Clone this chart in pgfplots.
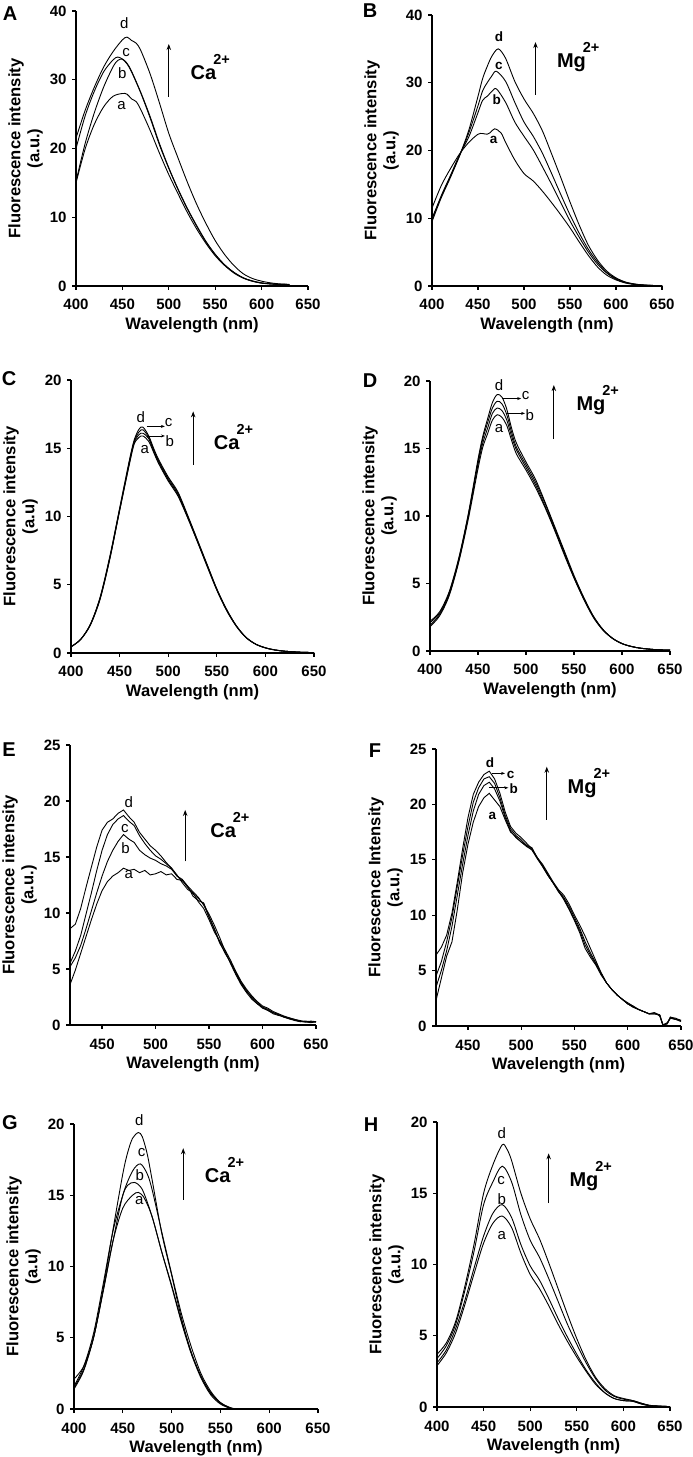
\documentclass[border=0pt]{standalone}
\usepackage{fontspec}
\setmainfont{Liberation Sans}
\usepackage{pgfplots}
\pgfplotsset{compat=1.18}
\usetikzlibrary{arrows.meta}

\newcommand{\tkf}{\fontsize{15}{15}\selectfont\bfseries}
\newcommand{\lbf}{\fontsize{16.6}{19}\selectfont\bfseries}
\newcommand{\plf}{\fontsize{20}{20}\selectfont\bfseries}
\newcommand{\cl}{\fontsize{15}{15}\selectfont}
\newcommand{\clb}{\fontsize{13.5}{14}\selectfont\bfseries}
\newcommand{\ion}[1]{{\fontsize{20}{20}\selectfont\bfseries #1\kern-3pt\raisebox{15pt}{\fontsize{14.5}{14.5}\selectfont 2+}}}

\pgfplotsset{panel/.style={
  scale only axis, anchor=south west,
  axis x line*=bottom, axis y line*=left,
  axis line style={line width=1.3pt},
  major tick style={black, line width=1.3pt},
  tick align=outside, major tick length=4pt,
  xtick={400,450,...,650},
  tick label style={font=\tkf},
  xticklabel shift=6pt,
  yticklabel shift=2pt,
  /pgf/number format/assume math mode=true,
  xlabel={Wavelength (nm)},
  xlabel style={font=\lbf},
  ylabel style={font=\lbf, align=center},
  ymin=0, xmax=650,
  clip mode=individual,
  cycle list={{black,mark=none,line width=0.9pt}\\},
}}
\tikzset{bigarr/.style={-{Stealth[length=6pt,width=4.5pt]}, line width=1pt},
         smallarr/.style={-{Stealth[length=4pt,width=3pt]}, line width=0.7pt}}

\begin{document}
\begin{tikzpicture}[x=1pt,y=1pt]
\useasboundingbox (0,0) rectangle (693,1457);

% ---------------- A ----------------
\begin{axis}[panel, at={(76pt,1171pt)}, width=232pt, height=275pt,
  xmin=400, ymax=40, ytick={0,10,...,40},
  ylabel={Fluorescence intensity\\(a.u.)}]
\addplot+[smooth] coordinates {(400,21.5)(410,25.6)(420,29.0)(430,31.9)(440,34.1)(450,35.8)(455,36.2)(460,35.7)(465,35.3)(470,34.2)(480,30.8)(490,26.6)(500,22.2)(510,18.6)(520,15.1)(530,11.9)(540,9.1)(550,6.6)(560,4.6)(570,3.0)(580,1.8)(590,1.1)(600,0.7)(610,0.45)(620,0.3)(630,0.25)};
\addplot+[smooth] coordinates {(400,20.0)(410,24.8)(420,28.4)(430,31.2)(440,32.9)(445,33.3)(450,33.0)(455,32.3)(460,31.1)(470,28.0)(480,24.4)(490,20.5)(500,17.1)(510,14.0)(520,11.2)(530,8.7)(540,6.4)(550,4.6)(560,3.1)(570,2.0)(580,1.2)(590,0.75)(600,0.45)(610,0.3)(620,0.25)(630,0.2)};
\addplot+[smooth] coordinates {(400,15.2)(410,20.8)(420,25.3)(430,29.0)(440,31.9)(445,32.8)(450,33.0)(455,32.4)(460,31.2)(470,28.1)(480,24.6)(490,20.7)(500,17.2)(510,14.1)(520,11.3)(530,8.8)(540,6.5)(550,4.6)(560,3.1)(570,2.0)(580,1.2)(590,0.7)(600,0.45)(610,0.3)(620,0.25)(630,0.2)};
\addplot+[smooth] coordinates {(400,15.0)(410,20.0)(420,23.6)(430,26.1)(440,27.6)(450,28.0)(455,27.9)(460,27.2)(465,26.8)(470,25.6)(480,22.6)(490,19.3)(500,16.2)(510,13.4)(520,10.7)(530,8.3)(540,6.2)(550,4.4)(560,3.0)(570,1.9)(580,1.15)(590,0.7)(600,0.4)(610,0.3)(620,0.2)(630,0.2)};
\node[font=\cl] at (axis cs:452,38.2) {d};
\node[font=\cl] at (axis cs:454,33.9) {c};
\node[font=\cl] at (axis cs:450,30.9) {b};
\node[font=\cl] at (axis cs:449,26.2) {a};
\draw[bigarr] (axis cs:500,27.5) -- (axis cs:500,35.2);
\node[anchor=base west, inner sep=0] at (axis cs:523.4,30) {\ion{Ca}};
\end{axis}
\node at (10,1443) {\plf A};

% ---------------- B ----------------
\begin{axis}[panel, at={(432pt,1171pt)}, width=230pt, height=271pt,
  xmin=400, ymax=40, ytick={0,10,...,40},
  ylabel={Fluorescence intensity\\(a.u.)}]
\addplot+[smooth] coordinates {(400,10.0)(410,13.2)(420,16.2)(430,19.3)(440,23.0)(450,28.0)(455,30.6)(460,32.4)(465,33.9)(472,35.0)(480,33.6)(490,30.2)(500,27.6)(510,25.5)(520,22.9)(530,19.5)(540,16.0)(550,12.4)(560,9.0)(570,6.0)(580,3.8)(590,2.2)(600,1.2)(610,0.6)(620,0.3)(630,0.15)(640,0.08)(650,0.05)};
\addplot+[smooth] coordinates {(400,9.5)(410,13.0)(420,16.0)(430,19.2)(440,22.6)(450,26.6)(455,28.8)(460,30.0)(465,31.0)(470,31.7)(480,30.2)(490,27.1)(500,24.2)(510,22.1)(520,19.6)(530,16.6)(540,13.5)(550,10.5)(560,7.8)(570,5.4)(580,3.5)(590,2.0)(600,1.1)(610,0.55)(620,0.28)(630,0.14)(640,0.08)(650,0.05)};
\addplot+[smooth] coordinates {(400,9.8)(410,13.3)(420,16.3)(430,19.4)(440,22.0)(450,25.6)(455,27.4)(460,28.0)(465,28.7)(470,29.1)(480,27.1)(490,24.2)(500,22.1)(510,20.1)(520,17.6)(530,15.0)(540,12.3)(550,9.6)(560,7.2)(570,5.0)(580,3.2)(590,1.9)(600,1.0)(610,0.5)(620,0.25)(630,0.12)(640,0.07)(650,0.05)};
\addplot+[smooth] coordinates {(400,11.5)(410,14.8)(420,17.3)(430,19.5)(440,21.2)(450,22.4)(455,22.5)(460,22.4)(463,22.6)(468,23.2)(475,22.6)(480,21.2)(490,18.6)(500,16.6)(510,15.5)(520,14.0)(530,12.3)(540,10.5)(550,8.6)(560,6.5)(570,4.5)(580,2.8)(590,1.6)(600,0.9)(610,0.45)(620,0.22)(630,0.12)(640,0.07)(650,0.05)};
\node[font=\clb] at (axis cs:472.7,36.8) {d};
\node[font=\clb] at (axis cs:472.7,32.5) {c};
\node[font=\clb] at (axis cs:470.5,27.5) {b};
\node[font=\clb] at (axis cs:467,21.5) {a};
\draw[bigarr] (axis cs:512.5,28.2) -- (axis cs:512.5,36);
\node[anchor=base west, inner sep=0] at (axis cs:535.7,32.2) {\ion{Mg}};
\end{axis}
\node at (370,1446) {\plf B};

% ---------------- C ----------------
\begin{axis}[panel, at={(71pt,804pt)}, width=243pt, height=273pt,
  xmin=400, ymax=20, ytick={0,5,...,20},
  ylabel={Fluorescence intensity\\(a.u)}]
\addplot+[smooth] coordinates {(400,0.45)(410,1.0)(420,2.1)(430,4.1)(440,7.1)(450,10.6)(460,14.1)(465,15.6)(470,16.4)(474,16.55)(480,15.9)(485,15.0)(490,14.2)(500,12.9)(510,11.8)(520,10.1)(530,8.3)(540,6.5)(550,4.7)(560,3.2)(570,2.0)(580,1.15)(590,0.65)(600,0.38)(610,0.22)(620,0.13)(635,0.06)(650,0.03)};
\addplot+[smooth] coordinates {(400,0.45)(410,1.0)(420,2.1)(430,4.05)(440,7.0)(450,10.5)(460,14.0)(465,15.5)(470,16.2)(474,16.35)(480,15.8)(485,14.9)(490,14.1)(500,12.8)(510,11.7)(520,10.0)(530,8.25)(540,6.45)(550,4.68)(560,3.2)(570,2.0)(580,1.15)(590,0.65)(600,0.38)(610,0.22)(620,0.13)(635,0.06)(650,0.03)};
\addplot+[smooth] coordinates {(400,0.45)(410,1.0)(420,2.1)(430,4.0)(440,6.95)(450,10.45)(460,13.9)(465,15.4)(470,16.0)(474,16.1)(480,15.7)(485,14.8)(490,14.0)(500,12.7)(510,11.6)(520,9.95)(530,8.2)(540,6.4)(550,4.65)(560,3.15)(570,1.98)(580,1.14)(590,0.65)(600,0.38)(610,0.22)(620,0.13)(635,0.06)(650,0.03)};
\addplot+[smooth] coordinates {(400,0.45)(410,1.0)(420,2.05)(430,3.95)(440,6.9)(450,10.4)(460,13.8)(465,15.3)(470,15.8)(474,15.9)(480,15.5)(485,14.7)(490,13.9)(500,12.6)(510,11.5)(520,9.9)(530,8.15)(540,6.35)(550,4.6)(560,3.12)(570,1.96)(580,1.13)(590,0.64)(600,0.37)(610,0.22)(620,0.13)(635,0.06)(650,0.03)};
\node[font=\cl] at (axis cs:471.9,17.3) {d};
\draw[smallarr] (axis cs:477.7,16.6) -- (axis cs:496.6,16.6);
\node[font=\cl] at (axis cs:500.5,16.9) {c};
\draw[smallarr] (axis cs:477.7,15.9) -- (axis cs:496.6,15.9);
\node[font=\cl] at (axis cs:501.7,15.5) {b};
\node[font=\cl] at (axis cs:476,14.9) {a};
\draw[bigarr] (axis cs:525.7,13.8) -- (axis cs:525.7,17.7);
\node[anchor=base west, inner sep=0] at (axis cs:546.9,14.9) {\ion{Ca}};
\end{axis}
\node at (9,1078) {\plf C};

% ---------------- D ----------------
\begin{axis}[panel, at={(430pt,806pt)}, width=240pt, height=270pt,
  xmin=400, ymax=20, ytick={0,5,...,20},
  ylabel={Fluorescence intensity\\(a.u.)}]
\addplot+[smooth] coordinates {(400,2.2)(410,2.9)(420,4.4)(430,6.9)(440,10.2)(450,14.2)(455,15.9)(460,17.2)(465,18.4)(470,19.0)(475,18.8)(480,17.9)(485,16.5)(490,15.4)(500,14.0)(510,12.7)(520,11.0)(530,9.2)(540,7.4)(550,5.6)(560,4.0)(570,2.6)(580,1.6)(590,0.95)(600,0.55)(610,0.33)(620,0.2)(635,0.1)(650,0.06)};
\addplot+[smooth] coordinates {(400,2.1)(410,2.8)(420,4.3)(430,6.8)(440,10.1)(450,14.0)(455,15.7)(460,16.9)(465,18.0)(470,18.5)(475,18.3)(480,17.5)(485,16.2)(490,15.1)(500,13.8)(510,12.5)(520,10.9)(530,9.1)(540,7.3)(550,5.5)(560,3.95)(570,2.6)(580,1.6)(590,0.95)(600,0.55)(610,0.33)(620,0.2)(635,0.1)(650,0.06)};
\addplot+[smooth] coordinates {(400,1.9)(410,2.7)(420,4.2)(430,6.7)(440,10.0)(450,13.8)(455,15.4)(460,16.5)(465,17.6)(470,18.0)(475,17.8)(480,17.1)(485,15.9)(490,14.9)(500,13.6)(510,12.3)(520,10.7)(530,9.0)(540,7.2)(550,5.45)(560,3.9)(570,2.55)(580,1.58)(590,0.94)(600,0.55)(610,0.33)(620,0.2)(635,0.1)(650,0.06)};
\addplot+[smooth] coordinates {(400,1.8)(410,2.6)(420,4.1)(430,6.6)(440,9.8)(450,13.5)(455,15.1)(460,16.1)(465,17.1)(470,17.5)(475,17.3)(480,16.7)(485,15.6)(490,14.6)(500,13.4)(510,12.1)(520,10.6)(530,8.9)(540,7.1)(550,5.4)(560,3.85)(570,2.5)(580,1.55)(590,0.93)(600,0.54)(610,0.33)(620,0.2)(635,0.1)(650,0.06)};
\node[font=\cl] at (axis cs:471.9,19.7) {d};
\draw[smallarr] (axis cs:475.3,18.7) -- (axis cs:495,18.7);
\node[font=\cl] at (axis cs:499.5,18.9) {c};
\draw[smallarr] (axis cs:478.8,17.6) -- (axis cs:499,17.6);
\node[font=\cl] at (axis cs:504,17.45) {b};
\node[font=\cl] at (axis cs:471.9,16.5) {a};
\draw[bigarr] (axis cs:529,15.7) -- (axis cs:529,19.7);
\node[anchor=base west, inner sep=0] at (axis cs:552.4,17.8) {\ion{Mg}};
\end{axis}
\node at (370,1076) {\plf D};

% ---------------- E ----------------
\begin{axis}[panel, at={(70pt,432pt)}, width=246pt, height=280pt,
  xmin=420, ymax=25, ytick={0,5,...,25}, xtick={450,500,...,650},
  ylabel={Fluorescence intensity\\(a.u.)}]
\addplot coordinates {(420,8.6)(425,9.0)(430,10.4)(435,12.3)(440,14.1)(445,15.9)(450,17.4)(455,18.1)(460,18.4)(465,18.9)(470,19.2)(475,18.6)(480,18.1)(485,17.2)(490,16.6)(495,16.0)(500,15.6)(505,15.1)(510,14.5)(515,14.0)(520,13.3)(525,12.9)(530,12.3)(535,11.7)(540,11.3)(545,10.8)(550,9.6)(555,8.5)(560,7.3)(565,6.5)(570,5.6)(575,4.6)(580,3.7)(585,3.0)(590,2.5)(595,2.0)(600,1.6)(605,1.4)(610,1.1)(615,0.9)(620,0.7)(625,0.6)(630,0.5)(635,0.35)(640,0.25)(645,0.35)(650,0.3)};
\addplot coordinates {(420,5.5)(425,6.6)(430,8.0)(435,9.9)(440,11.8)(445,13.8)(450,15.6)(455,17.0)(460,17.9)(465,18.4)(470,18.7)(475,18.2)(480,17.8)(485,16.9)(490,16.2)(495,15.6)(500,15.1)(505,14.8)(510,14.4)(515,14.0)(520,13.4)(525,12.7)(530,12.1)(535,11.8)(540,11.0)(545,10.4)(550,9.4)(555,8.3)(560,7.5)(565,6.7)(570,5.8)(575,4.8)(580,3.9)(585,3.2)(590,2.6)(595,2.1)(600,1.7)(605,1.5)(610,1.2)(615,1.0)(620,0.8)(625,0.65)(630,0.5)(635,0.4)(640,0.3)(645,0.25)(650,0.3)};
\addplot coordinates {(420,5.2)(425,6.0)(430,7.1)(435,8.6)(440,10.2)(445,11.8)(450,13.3)(455,14.6)(460,15.6)(465,16.4)(470,17.0)(475,16.6)(480,16.3)(485,15.6)(490,15.2)(495,14.9)(500,14.7)(505,14.4)(510,14.2)(515,13.9)(520,13.3)(525,13.0)(530,12.4)(535,11.5)(540,11.1)(545,10.9)(550,9.7)(555,8.6)(560,7.4)(565,6.4)(570,5.6)(575,4.7)(580,3.8)(585,3.1)(590,2.4)(595,1.9)(600,1.5)(605,1.3)(610,1.1)(615,0.95)(620,0.7)(625,0.55)(630,0.45)(635,0.3)(640,0.35)(645,0.3)(650,0.25)};
\addplot coordinates {(420,3.6)(425,4.9)(430,6.4)(435,7.9)(440,9.4)(445,10.8)(450,12.0)(455,12.8)(460,13.3)(465,13.6)(470,14.0)(475,13.8)(480,13.9)(485,13.6)(490,13.8)(495,13.4)(500,13.5)(505,13.7)(510,13.4)(515,13.5)(520,13.0)(525,12.9)(530,12.4)(535,11.9)(540,11.4)(545,10.7)(550,9.9)(555,8.9)(560,7.8)(565,6.6)(570,5.5)(575,4.5)(580,3.6)(585,2.9)(590,2.3)(595,1.9)(600,1.6)(605,1.3)(610,1.0)(615,0.85)(620,0.75)(625,0.55)(630,0.4)(635,0.3)(640,0.3)(645,0.2)(650,0.3)};
\node[font=\cl] at (axis cs:475,19.9) {d};
\node[font=\cl] at (axis cs:471.3,17.5) {c};
\node[font=\cl] at (axis cs:472,15.8) {b};
\node[font=\cl] at (axis cs:475,13.4) {a};
\draw[bigarr] (axis cs:527.7,14.6) -- (axis cs:527.7,19.2);
\node[anchor=base west, inner sep=0] at (axis cs:551,16.75) {\ion{Ca}};
\end{axis}
\node at (9,707) {\plf E};

% ---------------- F ----------------
\begin{axis}[panel, at={(436pt,431pt)}, width=245pt, height=277pt,
  xmin=420, ymax=25, ytick={0,5,...,25}, xtick={450,500,...,650},
  ylabel={Fluorescence Intensity\\(a.u.)}]
\addplot coordinates {(420,6.4)(425,7.1)(430,8.2)(435,10.2)(440,13.0)(445,16.0)(450,18.8)(455,20.9)(460,22.0)(465,22.7)(470,23.0)(475,22.3)(480,21.0)(485,19.3)(490,18.0)(495,17.4)(500,17.0)(505,16.5)(510,16.0)(515,15.2)(520,14.4)(525,13.6)(530,12.9)(535,12.2)(540,11.4)(545,10.5)(550,9.5)(555,8.4)(560,7.0)(565,6.2)(570,5.5)(575,4.6)(580,3.9)(585,3.3)(590,2.8)(595,2.4)(600,2.1)(605,1.8)(610,1.5)(615,1.3)(620,1.1)(625,1.2)(630,0.9)(633,0.1)(637,0.2)(640,0.8)(645,0.7)(650,0.5)};
\addplot coordinates {(420,4.5)(425,5.8)(430,7.6)(435,9.8)(440,12.6)(445,15.4)(450,18.0)(455,20.2)(460,21.5)(465,22.3)(470,22.5)(475,21.9)(480,20.6)(485,19.0)(490,17.8)(495,17.2)(500,16.8)(505,16.3)(510,15.9)(515,15.1)(520,14.4)(525,13.6)(530,12.9)(535,12.1)(540,11.5)(545,10.6)(550,9.6)(555,8.6)(560,7.3)(565,6.4)(570,5.6)(575,4.7)(580,3.9)(585,3.3)(590,2.8)(595,2.4)(600,2.0)(605,1.8)(610,1.5)(615,1.3)(620,1.1)(625,1.1)(630,1.0)(633,0.1)(637,0.3)(640,0.7)(645,0.6)(650,0.5)};
\addplot coordinates {(420,3.5)(425,5.0)(430,6.8)(435,9.0)(440,11.8)(445,14.6)(450,17.2)(455,19.4)(460,20.9)(465,21.7)(470,22.0)(475,21.4)(480,20.3)(485,18.8)(490,17.6)(495,17.0)(500,16.6)(505,16.2)(510,15.9)(515,15.2)(520,14.5)(525,13.7)(530,12.9)(535,12.2)(540,11.6)(545,10.8)(550,9.8)(555,8.8)(560,7.6)(565,6.6)(570,5.7)(575,4.8)(580,3.9)(585,3.3)(590,2.8)(595,2.4)(600,2.0)(605,1.7)(610,1.5)(615,1.3)(620,1.1)(625,1.2)(630,1.0)(633,0.1)(637,0.2)(640,0.8)(645,0.6)(650,0.4)};
\addplot coordinates {(420,2.3)(425,4.3)(430,6.3)(435,7.6)(440,10.5)(445,13.8)(450,16.4)(455,18.4)(460,19.8)(465,20.6)(470,21.0)(475,20.4)(480,19.8)(485,18.6)(490,17.5)(495,17.1)(500,16.6)(505,16.3)(510,16.1)(515,15.2)(520,14.6)(525,13.8)(530,13.0)(535,12.3)(540,11.8)(545,11.0)(550,10.0)(555,9.1)(560,8.1)(565,7.0)(570,5.9)(575,4.8)(580,3.9)(585,3.3)(590,2.8)(595,2.4)(600,2.0)(605,1.7)(610,1.5)(615,1.3)(620,1.1)(625,1.1)(630,1.0)(633,0.1)(637,0.2)(640,0.7)(645,0.6)(650,0.5)};
\node[font=\clb] at (axis cs:470.7,23.8) {d};
\draw[smallarr] (axis cs:472.9,22.8) -- (axis cs:484.8,22.8);
\node[font=\clb] at (axis cs:490,22.7) {c};
\draw[smallarr] (axis cs:469.7,21.5) -- (axis cs:487.9,21.5);
\node[font=\clb] at (axis cs:493,21.4) {b};
\node[font=\clb] at (axis cs:472.9,19.0) {a};
\draw[bigarr] (axis cs:524,18.6) -- (axis cs:524,23.4);
\node[anchor=base west, inner sep=0] at (axis cs:543.4,21.0) {\ion{Mg}};
\end{axis}
\node at (375,706) {\plf F};

% ---------------- G ----------------
\begin{axis}[panel, at={(74pt,48pt)}, width=244pt, height=285pt,
  xmin=400, ymax=20, ytick={0,5,...,20},
  ylabel={Fluorescence intensity\\(a.u)}]
\addplot+[smooth] coordinates {(400,2.1)(410,3.0)(420,5.0)(430,8.5)(440,12.6)(450,16.5)(455,18.0)(460,19.0)(466,19.4)(470,19.1)(475,17.9)(480,16.1)(490,12.3)(500,9.4)(510,6.4)(520,4.0)(530,2.3)(540,1.15)(550,0.45)(560,0.1)(566,0)};
\addplot+[smooth] coordinates {(400,1.5)(410,2.8)(420,5.0)(430,8.3)(440,11.8)(450,15.0)(460,16.7)(468,17.2)(475,16.5)(480,15.4)(490,12.4)(500,9.5)(510,6.7)(520,4.4)(530,2.5)(540,1.25)(550,0.45)(560,0.08)(565,0)};
\addplot+[smooth] coordinates {(400,1.6)(410,3.0)(420,5.3)(430,8.8)(440,12.5)(450,15.0)(455,15.7)(462,15.9)(470,15.4)(480,13.5)(490,11.0)(500,8.7)(510,6.2)(520,4.0)(530,2.3)(540,1.1)(550,0.4)(560,0.05)(563,0)};
\addplot+[smooth] coordinates {(400,1.4)(410,2.7)(420,5.0)(430,8.3)(440,11.8)(450,14.1)(460,15.0)(466,15.2)(472,14.8)(480,13.5)(490,11.0)(500,8.6)(510,6.1)(520,3.9)(530,2.2)(540,1.0)(550,0.35)(560,0.05)(563,0)};
\node[font=\cl] at (axis cs:466.8,20.3) {d};
\node[font=\cl] at (axis cs:469.2,18.0) {c};
\node[font=\cl] at (axis cs:467.5,16.4) {b};
\node[font=\cl] at (axis cs:466.8,14.6) {a};
\draw[bigarr] (axis cs:511.9,14.7) -- (axis cs:511.9,18.3);
\node[anchor=base west, inner sep=0] at (axis cs:534,15.9) {\ion{Ca}};
\end{axis}
\node at (10,334) {\plf G};

% ---------------- H ----------------
\begin{axis}[panel, at={(437pt,50pt)}, width=233pt, height=285pt,
  xmin=400, ymax=20, ytick={0,5,...,20},
  ylabel={Fluorescence intensity\\(a.u.)}]
\addplot+[smooth] coordinates {(400,3.7)(410,4.5)(420,6.0)(430,8.5)(440,11.5)(450,15.0)(460,17.0)(470,18.4)(475,18.1)(480,17.3)(490,15.0)(500,13.2)(510,11.8)(520,10.1)(530,8.3)(540,6.5)(550,4.8)(560,3.3)(570,2.1)(580,1.3)(590,0.8)(600,0.6)(610,0.45)(620,0.25)(630,0.1)(650,0.03)};
\addplot+[smooth] coordinates {(400,3.4)(410,4.3)(420,5.8)(430,8.2)(440,11.0)(450,14.2)(460,15.8)(470,16.9)(480,15.8)(490,13.5)(500,11.7)(510,10.5)(520,9.0)(530,7.4)(540,5.8)(550,4.4)(560,3.1)(570,2.0)(580,1.2)(590,0.75)(600,0.55)(610,0.45)(620,0.25)(630,0.1)(650,0.03)};
\addplot+[smooth] coordinates {(400,3.1)(410,4.0)(420,5.5)(430,7.5)(440,9.8)(450,12.0)(460,13.6)(470,14.2)(480,13.3)(490,11.4)(500,9.9)(510,8.9)(520,7.6)(530,6.2)(540,4.9)(550,3.7)(560,2.6)(570,1.7)(580,1.0)(590,0.6)(600,0.45)(610,0.4)(620,0.2)(630,0.08)(650,0.03)};
\addplot+[smooth] coordinates {(400,2.9)(410,3.8)(420,5.2)(430,7.2)(440,9.4)(450,11.5)(460,12.9)(470,13.4)(480,12.6)(490,10.8)(500,9.3)(510,8.3)(520,7.1)(530,5.8)(540,4.6)(550,3.5)(560,2.5)(570,1.6)(580,1.0)(590,0.6)(600,0.45)(610,0.4)(620,0.2)(630,0.08)(650,0.03)};
\node[font=\cl] at (axis cs:469.4,19.2) {d};
\node[font=\cl] at (axis cs:468.7,15.9) {c};
\node[font=\cl] at (axis cs:469.4,14.6) {b};
\node[font=\cl] at (axis cs:469.4,12.0) {a};
\draw[bigarr] (axis cs:519.8,14.3) -- (axis cs:519.8,17.8);
\node[anchor=base west, inner sep=0] at (axis cs:542,15.5) {\ion{Mg}};
\end{axis}
\node at (371,332) {\plf H};
\end{tikzpicture}
\end{document}
